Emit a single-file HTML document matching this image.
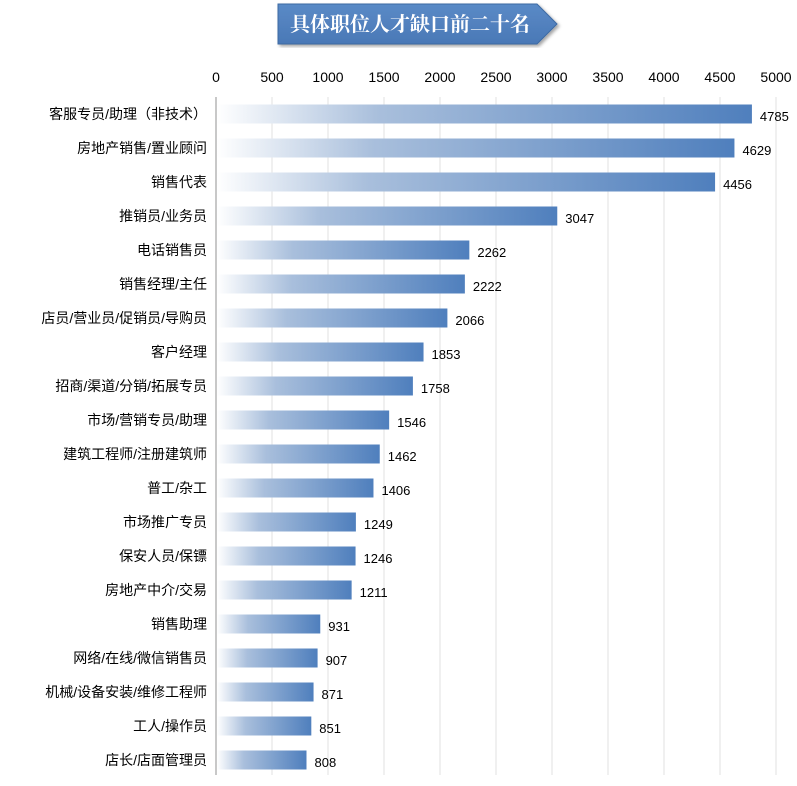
<!DOCTYPE html>
<html><head><meta charset="utf-8"><style>
body{margin:0;width:797px;height:781px;background:#fff;overflow:hidden;font-family:"Liberation Sans","Noto Sans CJK SC",sans-serif;}
</style></head><body>
<svg id="c" width="797" height="781">
<defs>
<linearGradient id="g" x1="0" x2="1" y1="0" y2="0"><stop offset="0" stop-color="#ffffff"/><stop offset="0.3" stop-color="#a9bfdc"/><stop offset="1" stop-color="#4f7fbd"/></linearGradient>
<linearGradient id="tg" x1="0" x2="0" y1="0" y2="1"><stop offset="0" stop-color="#5a8ac6"/><stop offset="1" stop-color="#4a78b6"/></linearGradient>
<filter id="sh"><feDropShadow dx="2" dy="2" stdDeviation="1.5" flood-opacity="0.35"/></filter>
</defs>
<g>
<polygon points="278,4 537,4 557,24 537,44 278,44" fill="url(#tg)" stroke="#3d6aa3" stroke-width="1" filter="url(#sh)"/>
<text x="410" y="31" text-anchor="middle" font-size="20" font-weight="bold" fill="#fff" font-family="'Liberation Serif','Noto Serif CJK SC',serif">具体职位人才缺口前二十名</text>
</g>
<g id="grid"></g><g id="bars"></g>
</svg>
<script>
const categories=["客服专员/助理（非技术）","房地产销售/置业顾问","销售代表","推销员/业务员","电话销售员","销售经理/主任","店员/营业员/促销员/导购员","客户经理","招商/渠道/分销/拓展专员","市场/营销专员/助理","建筑工程师/注册建筑师","普工/杂工","市场推广专员","保安人员/保镖","房地产中介/交易","销售助理","网络/在线/微信销售员","机械/设备安装/维修工程师","工人/操作员","店长/店面管理员"];
const values=[4785,4629,4456,3047,2262,2222,2066,1853,1758,1546,1462,1406,1249,1246,1211,931,907,871,851,808];
const ticks=[0,500,1000,1500,2000,2500,3000,3500,4000,4500,5000];
const NS="http://www.w3.org/2000/svg";
const x0=216,xMax=5000,pw=560,y0=114,step=34,bh=19;
const xs=v=>x0+v/xMax*pw;
function mk(t,a,p){const e=document.createElementNS(NS,t);for(const k in a)e.setAttribute(k,a[k]);p.appendChild(e);return e;}
const grid=document.getElementById('grid'),bars=document.getElementById('bars');
ticks.forEach(t=>{
 const l=mk('line',{x1:xs(t),x2:xs(t),y1:97,y2:775,stroke:t===0?'#c8c8c8':'#e2e2e2','stroke-width':t===0?2:1},grid);
 
 
 const tx=mk('text',{x:xs(t),y:82,'text-anchor':'middle','font-size':14,fill:'#000'},grid);
 tx.textContent=t;
 
 
});
categories.forEach((c,i)=>{
 const cy=y0+i*step;
 const r=mk('rect',{x:x0+1,y:cy-bh/2,width:xs(values[i])-x0-1,height:bh,fill:'url(#g)'},bars);
 
 
 const lb=mk('text',{x:207,y:cy+5,'text-anchor':'end','font-size':14,fill:'#000'},bars);
 lb.textContent=c;
 
 
 const vl=mk('text',{x:xs(values[i])+8,y:cy+7,'font-size':13,fill:'#000'},bars);
 vl.textContent=values[i];
 
 
});
</script>
</body></html>
